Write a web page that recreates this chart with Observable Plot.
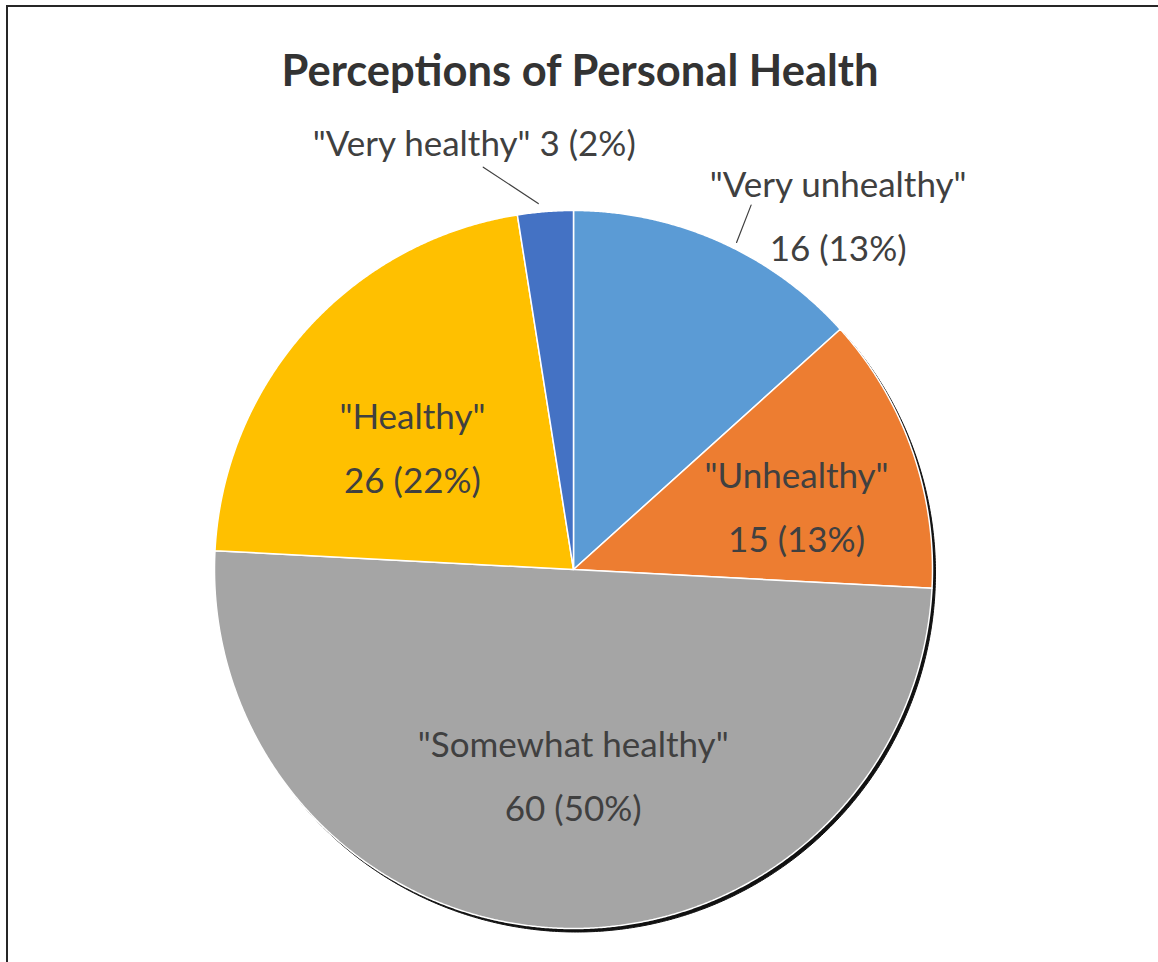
<!DOCTYPE html>
<html>
<head>
<meta charset="utf-8">
<script src="https://cdn.jsdelivr.net/npm/d3@7"></script>
<script src="https://cdn.jsdelivr.net/npm/@observablehq/plot@0.6"></script>
<style>
  html, body { margin: 0; padding: 0; background: #fff; overflow: hidden; }
  #wrap { position: relative; width: 1158px; height: 962px; overflow: hidden; }
  #frame { position: absolute; left: 6px; top: 5px; width: 1300px; height: 1100px; border: 2px solid #262626; box-sizing: border-box; }
  #title { position: absolute; left: 0; top: 48px; width: 1158px; text-align: center; padding-left: 2px; box-sizing: border-box;
           font: bold 43.5px Lato, sans-serif; line-height: 43.5px; color: #333; }
  #chart { position: absolute; left: 0; top: 115px; }
</style>
</head>
<body>
<div id="wrap">
  <div id="frame"></div>
  <div id="title">Perceptions of Personal Health</div>
  <div id="chart"></div>
</div>
<script>
// ---- data ----
const categories = ['"Very unhealthy"', '"Unhealthy"', '"Somewhat healthy"', '"Healthy"', '"Very healthy"'];
const counts = [16, 15, 60, 26, 3];
const percents = [13, 13, 50, 22, 2];
const colors = ["#5B9BD5", "#ED7D31", "#A5A5A5", "#FFC000", "#4472C4"];

// ---- layout ----
const W = 1158, H = 847, cx = 573, cy = 454, R = 359;
// label placement: radius factor from slice mid-angle plus pixel nudge (Excel "best fit")
const labelLayout = [
  {k: 1.23, nx: 85, ny: 42, outside: true, leaderShift: 2.5, leaderK: 1.018, endX: -87, endY: -3},
  {k: 0.6, nx: 20, ny: 2},
  {k: 0.6, nx: 11, ny: -16},
  {k: 0.6, nx: -1, ny: 15},
  {k: 1.18, nx: -66, ny: -12, outside: true, single: true, leaderShift: -1, leaderK: 1.024, endX: 9, endY: 32}
];

const total = d3.sum(counts);
let acc = 0;
const slices = categories.map((c, i) => {
  const a0 = acc / total * 2 * Math.PI;
  acc += counts[i];
  const a1 = acc / total * 2 * Math.PI;
  return {cat: c, i, a0, a1, mid: (a0 + a1) / 2};
});

// polygon vertices of each slice (unit circle, y up, angle clockwise from 12 o'clock)
const slicePts = slices.flatMap(s => {
  const n = Math.max(2, Math.ceil((s.a1 - s.a0) / (Math.PI / 720)));
  const arr = [{cat: s.cat, color: colors[s.i], x: 0, y: 0}];
  for (let k = 0; k <= n; k++) {
    const a = s.a0 + (s.a1 - s.a0) * k / n;
    arr.push({cat: s.cat, color: colors[s.i], x: Math.sin(a), y: Math.cos(a)});
  }
  return arr;
});
const circlePts = d3.range(0, 721).map(k => {
  const a = k / 720 * 2 * Math.PI;
  return {x: Math.sin(a), y: Math.cos(a)};
});

const labels = slices.map(s => {
  const L = labelLayout[s.i];
  const x = Math.sin(s.mid) * L.k + L.nx / R;
  const y = Math.cos(s.mid) * L.k - L.ny / R;
  const text = L.single
    ? `${s.cat} ${counts[s.i]} (${percents[s.i]}%)`
    : `${s.cat}\n${counts[s.i]} (${percents[s.i]}%)`;
  return {x, y, text, ...L, s};
});

const leaders = labels.filter(d => d.outside).flatMap(d => {
  const a = d.s.mid + d.leaderShift * Math.PI / 180;
  return [
    {id: d.s.cat, x: Math.sin(a) * d.leaderK, y: Math.cos(a) * d.leaderK},
    {id: d.s.cat, x: d.x + d.endX / R, y: d.y - d.endY / R}
  ];
});

const chart = Plot.plot({
  width: W,
  height: H,
  margin: 0,
  x: {domain: [-cx / R, (W - cx) / R], range: [0, W], axis: null},
  y: {domain: [-(H - cy) / R, cy / R], range: [H, 0], axis: null},
  color: {type: "identity"},
  style: {background: "transparent"},
  marks: [
    // drop shadow
    Plot.line(circlePts, {x: "x", y: "y", curve: "linear-closed", fill: "#111", stroke: "#111", strokeWidth: 1, dx: 3, dy: 3.5}),
    // slices
    Plot.line(slicePts, {x: "x", y: "y", z: "cat", curve: "linear-closed", fill: "color", stroke: "white", strokeWidth: 1.5, strokeLinejoin: "round"}),
    // leader lines
    Plot.line(leaders, {x: "x", y: "y", z: "id", stroke: "#404040", strokeWidth: 1.2}),
    // labels
    Plot.text(labels, {x: "x", y: "y", text: "text", fill: "#404040", fontSize: 35, fontFamily: "Lato, sans-serif", lineHeight: 1.83})
  ]
});
document.getElementById("chart").appendChild(chart);
</script>
</body>
</html>
